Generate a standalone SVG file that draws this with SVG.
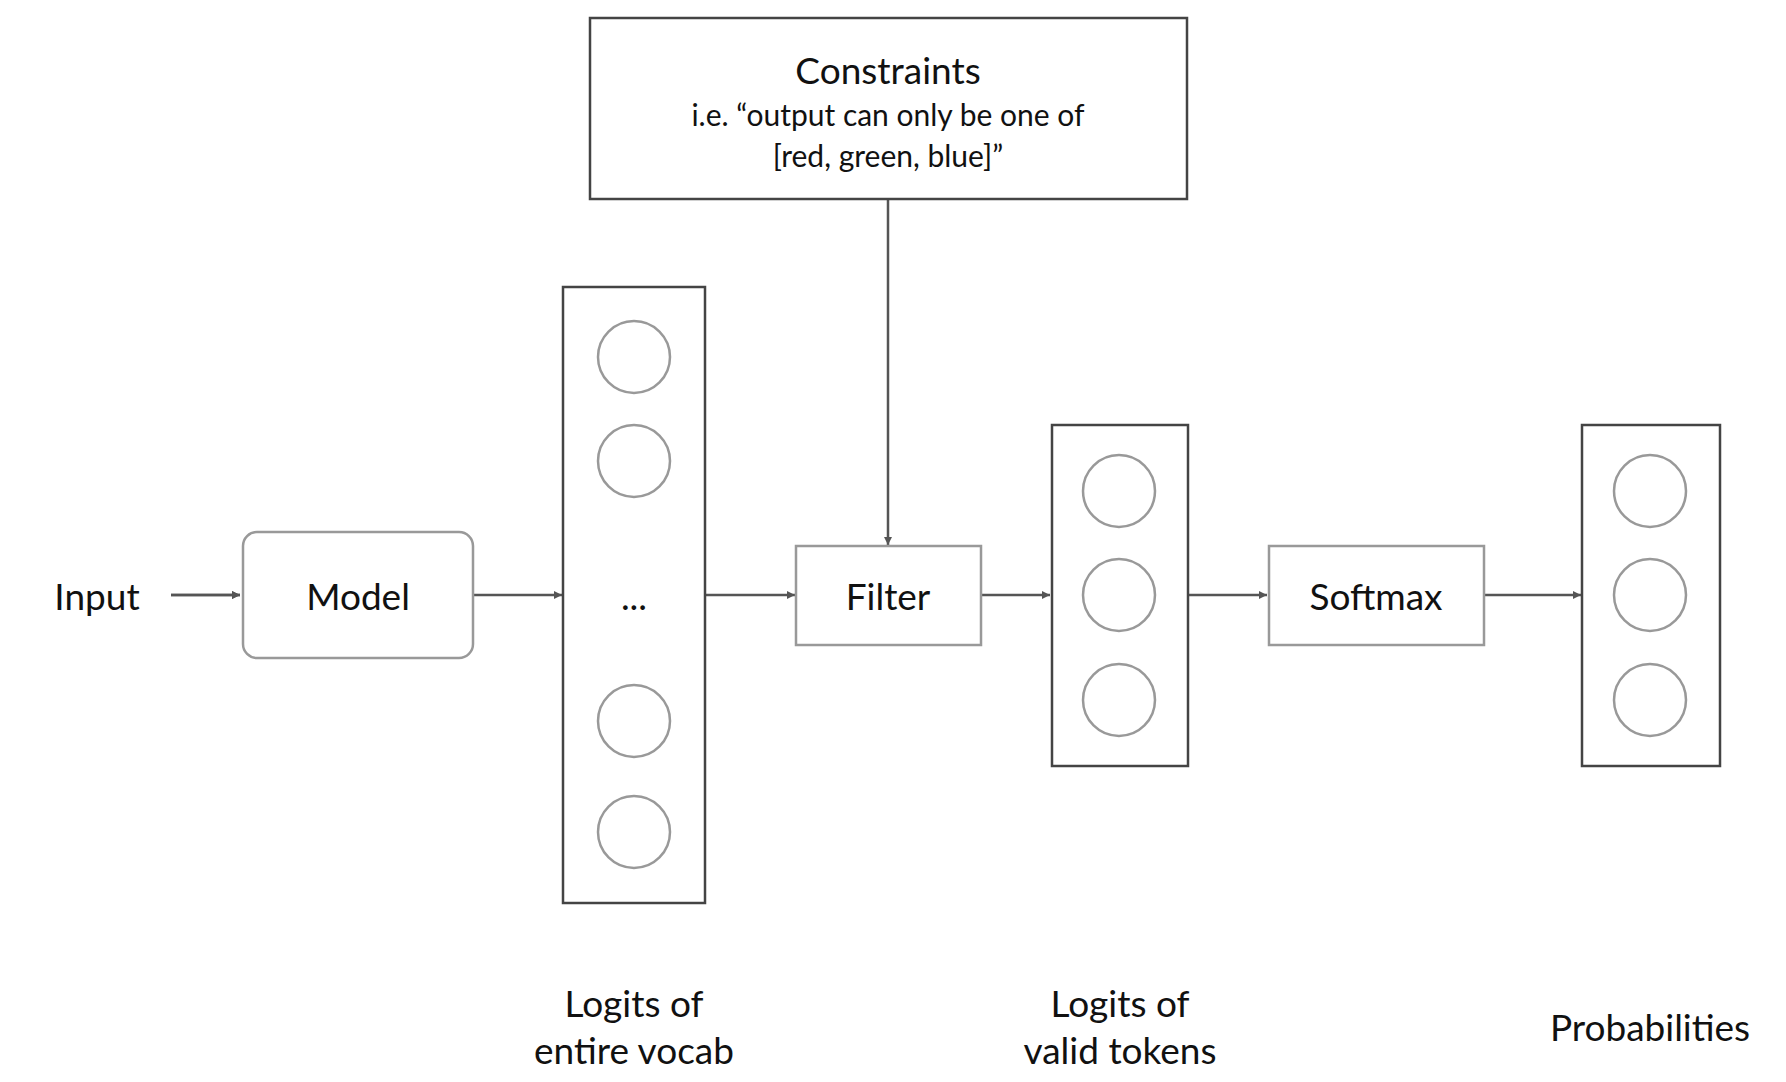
<svg xmlns="http://www.w3.org/2000/svg" width="1786" height="1082" viewBox="0 0 1786 1082">
<style>
text{font-family:Lato,"Open Sans",sans-serif;fill:#111;text-anchor:middle;dominant-baseline:central}
.t{font-size:37px}
.s{font-size:30px}
.dark{fill:#fff;stroke:#444;stroke-width:2.5}
.gray{fill:#fff;stroke:#999;stroke-width:2.5}
.c{fill:#fff;stroke:#999;stroke-width:2.5}
.e{stroke:#555;stroke-width:2.5;fill:none;marker-end:url(#a)}
</style>
<defs><marker id="a" viewBox="0 0 10 10" refX="10" refY="5" markerWidth="8" markerHeight="8" markerUnits="userSpaceOnUse" orient="auto"><path d="M0,0L10,5L0,10z" fill="#555"/></marker></defs>
<rect width="1786" height="1082" fill="#fff"/>
<g id="connectors">
<line class="e" x1="171" y1="595" x2="240" y2="595" style="marker-end:url(#a)"/>
<path class="e" d="M171,595H240" marker-end="url(#a)" stroke-width="0"/>
<path class="e" d="M473,595H562"/>
<path class="e" d="M705,595H795"/>
<path class="e" d="M981,595H1050"/>
<path class="e" d="M1188,595H1267"/>
<path class="e" d="M1484,595H1581"/>
<path class="e" d="M888,199V545"/>
</g>
<g id="constraints"><rect class="dark" x="590" y="18" width="597" height="181"/>
<text class="t" x="888" y="69">Constraints</text>
<text class="s" x="888" y="114">i.e. “output can only be one of</text>
<text class="s" x="888" y="155">[red, green, blue]”</text></g>
<g id="input"><text class="t" x="97" y="595">Input</text></g>
<g id="model"><rect class="gray" x="243" y="532" width="230" height="126" rx="14"/><text class="t" x="358" y="595">Model</text></g>
<g id="vocab"><rect class="dark" x="563" y="287" width="142" height="616"/>
<circle class="c" cx="634" cy="357" r="36"/><circle class="c" cx="634" cy="461" r="36"/>
<text class="t" x="634" y="595">...</text>
<circle class="c" cx="634" cy="721" r="36"/><circle class="c" cx="634" cy="832" r="36"/></g>
<g id="filter"><rect class="gray" x="796" y="546" width="185" height="99"/><text class="t" x="888" y="595">Filter</text></g>
<g id="valid"><rect class="dark" x="1052" y="425" width="136" height="341"/>
<circle class="c" cx="1119" cy="491" r="36"/><circle class="c" cx="1119" cy="595" r="36"/><circle class="c" cx="1119" cy="700" r="36"/></g>
<g id="softmax"><rect class="gray" x="1269" y="546" width="215" height="99"/><text class="t" x="1376" y="595">Softmax</text></g>
<g id="probs"><rect class="dark" x="1582" y="425" width="138" height="341"/>
<circle class="c" cx="1650" cy="491" r="36"/><circle class="c" cx="1650" cy="595" r="36"/><circle class="c" cx="1650" cy="700" r="36"/></g>
<g id="labels">
<text class="t" x="634" y="1002">Logits of</text><text class="t" x="634" y="1049">entire vocab</text>
<text class="t" x="1120" y="1002">Logits of</text><text class="t" x="1120" y="1049">valid tokens</text>
<text class="t" x="1650" y="1026">Probabilities</text>
</g>
</svg>
